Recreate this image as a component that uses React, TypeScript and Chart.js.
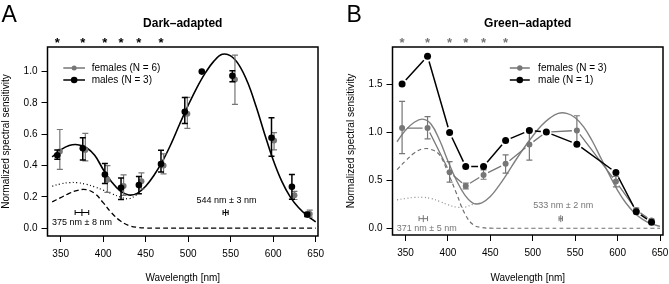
import React, { useEffect, useRef } from "react";
import { Chart, registerables } from "chart.js";

Chart.register(...registerables);

const FONT = "'Liberation Sans', Arial, Helvetica, sans-serif";
const GREY = "#767676";

// Stimulus wavelengths (nm)
const wavelengths = [346, 376, 402, 421, 442, 468, 496, 516, 552, 598, 622, 640];
// Wavelengths at which the sexes differ significantly (*)
const significantWavelengths = [346, 376, 402, 421, 442, 468];

const xTicks = [350, 400, 450, 500, 550, 600, 650];
const yTicksDark = [0, 0.2, 0.4, 0.6, 0.8, 1.0];
const yTicksGreen = [0, 0.5, 1.0, 1.5];

// Dark-adapted responses (mean, lower and upper error)
const darkFemales = [0.49, 0.5, 0.31, 0.27, 0.3, 0.4, 0.73, null, 0.95, 0.56, 0.21, 0.09];
const darkFemalesLo = [0.375, 0.43, 0.228, 0.21, 0.25, 0.347, 0.637, null, 0.79, 0.5, 0.183, 0.07];
const darkFemalesHi = [0.63, 0.605, 0.4, 0.34, 0.353, 0.475, 0.835, null, 1.105, 0.61, 0.235, 0.115];
const darkMales = [0.466, 0.51, 0.343, 0.258, 0.275, 0.41, 0.743, 1.0, 0.973, 0.577, 0.264, 0.0875];
const darkMalesLo = [0.44, 0.435, 0.285, 0.183, 0.22, 0.358, 0.669, null, 0.935, 0.46, 0.185, 0.075];
const darkMalesHi = [0.5, 0.577, 0.413, 0.32, 0.33, 0.497, 0.835, null, 1.005, 0.705, 0.343, 0.1];

// Green-adapted responses
const greenFemales = [1.042, 1.042, 0.583, 0.44, 0.555, 0.67, 0.87, 1.0, 1.017, 0.486, 0.19, 0.08];
const greenFemalesLo = [0.777, 0.93, 0.479, 0.41, 0.51, 0.573, 0.708, null, 0.86, 0.43, 0.17, 0.065];
const greenFemalesHi = [1.32, 1.16, 0.694, 0.47, 0.607, 0.764, 1.03, null, 1.17, 0.54, 0.21, 0.095];
const greenMale = [1.5, 1.79, 0.996, 0.642, 0.642, 0.912, 1.017, 1.0, 0.875, 0.58, 0.173, 0.0625];

// Template fits, sampled every 10 nm
const fitWavelengths = [
  340, 350, 360, 370, 380, 390, 400, 410, 420, 430, 440, 450, 460, 470, 480, 490,
  500, 510, 520, 530, 540, 550, 560, 570, 580, 590, 600, 610, 620, 630, 640, 650,
];
const uvWavelengths = [340, 350, 360, 370, 380, 390, 400, 410, 420, 430, 440];

const darkFit = [
  0.455, 0.5, 0.528, 0.533, 0.515, 0.465, 0.375, 0.295, 0.238, 0.212, 0.222, 0.268, 0.34, 0.43, 0.54, 0.665,
  0.785, 0.895, 0.99, 1.065, 1.11, 1.1, 1.04, 0.93, 0.775, 0.6, 0.435, 0.3, 0.2, 0.13, 0.08, 0.04,
];
const darkUvComponent = [
  0.168, 0.195, 0.222, 0.242, 0.246, 0.222, 0.163, 0.097, 0.047, 0.017, 0.005, 0.001, 0, 0, 0, 0,
  0, 0, 0, 0, 0, 0, 0, 0, 0, 0, 0, 0, 0, 0, 0, 0,
];
const darkUvDotted = [0.268, 0.283, 0.291, 0.29, 0.28, 0.264, 0.243, 0.22, 0.2, 0.188, 0.215];

const greenFit = [
  0.9, 1.02, 1.1, 1.135, 1.085, 0.92, 0.7, 0.5, 0.345, 0.26, 0.265, 0.33, 0.44, 0.57, 0.71, 0.84,
  0.96, 1.065, 1.145, 1.195, 1.195, 1.15, 1.055, 0.91, 0.735, 0.56, 0.395, 0.26, 0.16, 0.09, 0.045, 0.02,
];
const greenUvComponent = [
  0.61, 0.7, 0.78, 0.825, 0.82, 0.765, 0.58, 0.365, 0.15, 0.035, 0.008, 0.001, 0, 0, 0, 0,
  0, 0, 0, 0, 0, 0, 0, 0, 0, 0, 0, 0, 0, 0, 0, 0,
];
const greenUvDotted = [0.295, 0.31, 0.32, 0.322, 0.31, 0.28, 0.245, 0.22, 0.22, 0.25, 0.265];

// Estimated peak wavelengths ± error (nm)
const darkPeaks = [375, 544];
const darkPeakErr = [8, 3];
const greenPeaks = [371, 533];
const greenPeakErr = [5, 2];

type Pt = { x: number; y: number; lo: number | null; hi: number | null };

function points(xs: number[], ys: (number | null)[], lo?: (number | null)[], hi?: (number | null)[], dx = 0): Pt[] {
  const out: Pt[] = [];
  xs.forEach((x, i) => {
    const y = ys[i];
    if (y == null) return;
    out.push({ x: x + dx, y, lo: lo ? lo[i] : null, hi: hi ? hi[i] : null });
  });
  return out;
}

function curve(xs: number[], ys: number[]) {
  return xs.map((x, i) => ({ x, y: ys[i] }));
}

type PanelCfg = {
  letter: string;
  title: string;
  xMin: number;
  xMax: number;
  yMin: number;
  yMax: number;
  yTicks: number[];
  xAxisHeight: number;
  padRight: number;
  width: number;
  starColor: string;
  peaks: number[];
  peakErr: number[];
  peakColor: string;
  peakLabelPos: { x: number; y: number }[];
  legend: { label: string; color: string; r: number }[];
  legendLine: [number, number];
  legendText: number;
  datasets: any[];
};

function makeDecor(cfg: PanelCfg) {
  return {
    id: "decor",
    beforeDatasetDraw(chart: any, args: any) {
      const ds: any = chart.data.datasets[args.index];
      const { ctx } = chart;
      const xs = chart.scales.x;
      const ys = chart.scales.y;
      const data: Pt[] = ds.data;
      ctx.save();
      if (ds.joinGap) {
        ctx.strokeStyle = ds.joinColor;
        ctx.lineWidth = ds.joinWidth;
        ctx.beginPath();
        for (let i = 0; i < data.length - 1; i++) {
          const x0 = xs.getPixelForValue(data[i].x);
          const y0 = ys.getPixelForValue(data[i].y);
          const x1 = xs.getPixelForValue(data[i + 1].x);
          const y1 = ys.getPixelForValue(data[i + 1].y);
          const len = Math.hypot(x1 - x0, y1 - y0);
          const g = ds.joinGap;
          if (len <= 2 * g) continue;
          const ux = (x1 - x0) / len;
          const uy = (y1 - y0) / len;
          ctx.moveTo(x0 + ux * g, y0 + uy * g);
          ctx.lineTo(x1 - ux * g, y1 - uy * g);
        }
        ctx.stroke();
      }
      if (ds.errorBars) {
        ctx.strokeStyle = ds.errColor;
        ctx.lineWidth = ds.errWidth;
        const cap = 3;
        ctx.beginPath();
        data.forEach((d) => {
          if (d.lo == null || d.hi == null) return;
          const px = xs.getPixelForValue(d.x);
          const pl = ys.getPixelForValue(d.lo);
          const ph = ys.getPixelForValue(d.hi);
          ctx.moveTo(px, pl);
          ctx.lineTo(px, ph);
          ctx.moveTo(px - cap, pl);
          ctx.lineTo(px + cap, pl);
          ctx.moveTo(px - cap, ph);
          ctx.lineTo(px + cap, ph);
        });
        ctx.stroke();
      }
      ctx.restore();
    },
    afterDatasetsDraw(chart: any) {
      const { ctx, chartArea: ca } = chart;
      const xs = chart.scales.x;
      const ys = chart.scales.y;
      ctx.save();

      // plot frame
      ctx.strokeStyle = "#000";
      ctx.lineWidth = 1.5;
      ctx.strokeRect(ca.left, ca.top, ca.right - ca.left, ca.bottom - ca.top);

      // panel letter and title
      ctx.fillStyle = "#000";
      ctx.font = `23px ${FONT}`;
      ctx.textAlign = "left";
      ctx.textBaseline = "alphabetic";
      ctx.fillText(cfg.letter, 1.5, 21.7);
      ctx.font = `bold 12px ${FONT}`;
      ctx.textAlign = "center";
      ctx.textBaseline = "middle";
      ctx.fillText(cfg.title, (ca.left + ca.right) / 2, 24);

      // significance stars
      ctx.fillStyle = cfg.starColor;
      ctx.font = `bold 13px ${FONT}`;
      ctx.textBaseline = "alphabetic";
      significantWavelengths.forEach((w) => {
        ctx.fillText("*", xs.getPixelForValue(w), 46.5);
      });

      // peak estimates with their errors
      ctx.strokeStyle = cfg.peakColor;
      ctx.fillStyle = cfg.peakColor;
      ctx.lineWidth = 1;
      cfg.peaks.forEach((p, i) => {
        const e = cfg.peakErr[i];
        const y = ys.getPixelForValue(0.1);
        const xl = xs.getPixelForValue(p - e);
        const xr = xs.getPixelForValue(p + e);
        const xc = xs.getPixelForValue(p);
        ctx.beginPath();
        ctx.moveTo(xl, y);
        ctx.lineTo(xr, y);
        ctx.moveTo(xl, y - 2.5);
        ctx.lineTo(xl, y + 2.5);
        ctx.moveTo(xr, y - 2.5);
        ctx.lineTo(xr, y + 2.5);
        ctx.moveTo(xc, y - 3.5);
        ctx.lineTo(xc, y + 3.5);
        ctx.stroke();
        const lp = cfg.peakLabelPos[i];
        ctx.font = `9px ${FONT}`;
        ctx.textAlign = "center";
        ctx.textBaseline = "middle";
        ctx.fillText(`${p} nm \u00b1 ${e} nm`, xs.getPixelForValue(lp.x), ys.getPixelForValue(lp.y));
      });

      // legend
      const rows = [21, 33];
      cfg.legend.forEach((item, k) => {
        const y = ca.top + rows[k];
        const x0 = ca.left + cfg.legendLine[0];
        const x1 = ca.left + cfg.legendLine[1];
        ctx.strokeStyle = item.color;
        ctx.lineWidth = 1.5;
        ctx.beginPath();
        ctx.moveTo(x0, y);
        ctx.lineTo(x1, y);
        ctx.stroke();
        ctx.fillStyle = item.color;
        ctx.beginPath();
        ctx.arc((x0 + x1) / 2, y, item.r, 0, Math.PI * 2);
        ctx.fill();
        ctx.fillStyle = "#000";
        ctx.font = `10px ${FONT}`;
        ctx.textAlign = "left";
        ctx.textBaseline = "middle";
        ctx.fillText(item.label, ca.left + cfg.legendText, y);
      });
      ctx.restore();
    },
  };
}

function buildConfig(cfg: PanelCfg): any {
  const tickFont = { family: FONT, size: 10 };
  return {
    type: "scatter",
    data: { datasets: cfg.datasets },
    options: {
      animation: false,
      responsive: false,
      devicePixelRatio: 1,
      layout: { padding: { top: 47, right: cfg.padRight, bottom: 0, left: 0 } },
      plugins: { legend: { display: false }, tooltip: { enabled: false }, title: { display: false } },
      scales: {
        x: {
          type: "linear",
          min: cfg.xMin,
          max: cfg.xMax,
          afterBuildTicks: (s: any) => {
            s.ticks = xTicks.map((v) => ({ value: v }));
          },
          afterFit: (s: any) => {
            s.height = cfg.xAxisHeight;
            s.paddingLeft = 0;
            s.paddingRight = 0;
          },
          ticks: {
            color: "#000",
            font: tickFont,
            padding: 6,
            maxRotation: 0,
            autoSkip: false,
            callback: (v: any) => String(v),
          },
          grid: { display: true, drawOnChartArea: false, drawTicks: true, tickLength: 6, color: "#000" },
          border: { display: false },
          title: {
            display: true,
            text: "Wavelength [nm]",
            color: "#000",
            font: { family: FONT, size: 10 },
            padding: { top: 0, bottom: 0 },
          },
        },
        y: {
          type: "linear",
          min: cfg.yMin,
          max: cfg.yMax,
          afterBuildTicks: (s: any) => {
            s.ticks = cfg.yTicks.map((v) => ({ value: v }));
          },
          afterFit: (s: any) => {
            s.width = 47.5;
            s.paddingTop = 0;
            s.paddingBottom = 0;
          },
          ticks: {
            color: "#000",
            font: tickFont,
            padding: 4,
            autoSkip: false,
            callback: (v: any) => Number(v).toFixed(1),
          },
          grid: { display: true, drawOnChartArea: false, drawTicks: true, tickLength: 6, color: "#000" },
          border: { display: false },
          title: {
            display: true,
            text: "Normalized spectral sensitivity",
            color: "#000",
            font: { family: FONT, size: 10 },
            padding: { top: 0, bottom: 0 },
          },
        },
      },
    },
    plugins: [makeDecor(cfg)],
  };
}

const lineDefaults = { type: "line", pointRadius: 0, fill: false, tension: 0.4 };

const darkCfg: PanelCfg = {
  letter: "A",
  title: "Dark\u2013adapted",
  xMin: 334.5,
  xMax: 652.7,
  yMin: -0.05,
  yMax: 1.157,
  yTicks: yTicksDark,
  xAxisHeight: 48,
  padRight: 22,
  width: 340,
  starColor: "#000",
  peaks: darkPeaks,
  peakErr: darkPeakErr,
  peakColor: "#000",
  peakLabelPos: [
    { x: 375, y: 0.034 },
    { x: 545, y: 0.179 },
  ],
  legend: [
    { label: "females (N = 6)", color: GREY, r: 2.5 },
    { label: "males (N = 3)", color: "#000", r: 3.3 },
  ],
  legendLine: [15.8, 37.5],
  legendText: 44.2,
  datasets: [
    { ...lineDefaults, data: curve(fitWavelengths, darkFit), borderColor: "#000", borderWidth: 1.6, order: 5 },
    { ...lineDefaults, data: curve(uvWavelengths, darkUvDotted), borderColor: "#000", borderWidth: 1.2, borderDash: [1, 2.5], order: 6 },
    { ...lineDefaults, data: curve(fitWavelengths, darkUvComponent), borderColor: "#000", borderWidth: 1.3, borderDash: [5, 3], order: 7 },
    {
      data: points(wavelengths, darkFemales, darkFemalesLo, darkFemalesHi, 3),
      showLine: false,
      pointRadius: 3,
      pointBackgroundColor: GREY,
      pointBorderWidth: 0,
      errorBars: true,
      errColor: GREY,
      errWidth: 1.2,
      order: 2,
    },
    {
      data: points(wavelengths, darkMales, darkMalesLo, darkMalesHi),
      showLine: false,
      pointRadius: 3.3,
      pointBackgroundColor: "#000",
      pointBorderWidth: 0,
      errorBars: true,
      errColor: "#000",
      errWidth: 1.5,
      order: 1,
    },
  ],
};

const greenCfg: PanelCfg = {
  letter: "B",
  title: "Green\u2013adapted",
  xMin: 334.7,
  xMax: 653.5,
  yMin: -0.07,
  yMax: 1.885,
  yTicks: yTicksGreen,
  xAxisHeight: 49,
  padRight: 6,
  width: 324,
  starColor: GREY,
  peaks: greenPeaks,
  peakErr: greenPeakErr,
  peakColor: GREY,
  peakLabelPos: [
    { x: 375, y: 0.0 },
    { x: 536, y: 0.232 },
  ],
  legend: [
    { label: "females (N = 3)", color: GREY, r: 2.7 },
    { label: "male (N = 1)", color: "#000", r: 3.3 },
  ],
  legendLine: [117.3, 137.3],
  legendText: 145.6,
  datasets: [
    { ...lineDefaults, data: curve(fitWavelengths, greenFit), borderColor: "#808080", borderWidth: 1.4, order: 5 },
    { ...lineDefaults, data: curve(uvWavelengths, greenUvDotted), borderColor: "#8a8a8a", borderWidth: 1.2, borderDash: [1, 2.5], order: 6 },
    { ...lineDefaults, data: curve(fitWavelengths, greenUvComponent), borderColor: "#707070", borderWidth: 1.2, borderDash: [4, 3], order: 7 },
    {
      data: points(wavelengths, greenFemales, greenFemalesLo, greenFemalesHi),
      showLine: false,
      pointRadius: 3,
      pointBackgroundColor: GREY,
      pointBorderWidth: 0,
      errorBars: true,
      errColor: GREY,
      errWidth: 1.2,
      joinGap: 5,
      joinColor: GREY,
      joinWidth: 1.3,
      order: 2,
    },
    {
      data: points(wavelengths, greenMale),
      showLine: false,
      pointRadius: 3.5,
      pointBackgroundColor: "#000",
      pointBorderWidth: 0,
      joinGap: 5.5,
      joinColor: "#000",
      joinWidth: 1.5,
      order: 1,
    },
  ],
};

function Panel({ cfg, left }: { cfg: PanelCfg; left: number }) {
  const ref = useRef<HTMLCanvasElement>(null);
  useEffect(() => {
    const chart = new Chart(ref.current as HTMLCanvasElement, buildConfig(cfg));
    return () => chart.destroy();
  }, [cfg]);
  return (
    <canvas
      ref={ref}
      width={cfg.width}
      height={284}
      style={{ position: "absolute", left, top: 0, width: cfg.width, height: 284 }}
    />
  );
}

export default function App() {
  return (
    <div style={{ position: "fixed", left: 0, top: 0, width: 669, height: 284, background: "#fff", overflow: "hidden" }}>
      <Panel cfg={darkCfg} left={0} />
      <Panel cfg={greenCfg} left={345} />
    </div>
  );
}
